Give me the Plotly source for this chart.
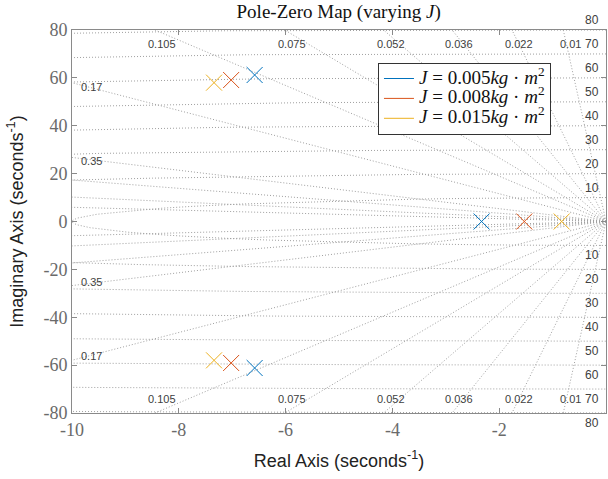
import numpy as np
import plotly.graph_objects as go

# ---- data ----
series_names = ["J = 0.005", "J = 0.008", "J = 0.015"]
series_colors = ["#0072BD", "#D95319", "#EDB120"]
pole_real = [[-6.58, -6.58, -2.33], [-7.02, -7.02, -1.53], [-7.34, -7.34, -0.83]]
pole_imag = [[61.2, -61.2, 0.0], [59.1, -59.1, 0.0], [58.0, -58.0, 0.0]]

zeta_values = [0.01, 0.022, 0.036, 0.052, 0.075, 0.105, 0.17, 0.35, 0.5, 0.7, 0.86]
zeta_labels = ["0.01", "0.022", "0.036", "0.052", "0.075", "0.105", "0.17", "0.35"]
wn_values = [10, 20, 30, 40, 50, 60, 70, 80]

x_ticks = [-10, -8, -6, -4, -2, 0]
y_ticks = [-80, -60, -40, -20, 0, 20, 40, 60, 80]
x_range = [-10, 0]
y_range = [-80, 80]

grid_color = "#a0a0a0"
grid_dash = "1px,2px"

fig = go.Figure()

# damping-ratio lines
for z in zeta_values:
    r = np.array([0, 400.0])
    xs = -z * r
    ys = np.sqrt(1 - z**2) * r
    for sgn in (1, -1):
        fig.add_trace(go.Scatter(x=xs, y=sgn * ys, mode="lines",
                                 line=dict(color=grid_color, width=1, dash=grid_dash),
                                 hoverinfo="skip", showlegend=False))

# natural-frequency circles
for w in wn_values:
    th = np.linspace(np.pi / 2, 3 * np.pi / 2, 4001)
    fig.add_trace(go.Scatter(x=w * np.cos(th), y=w * np.sin(th), mode="lines",
                             line=dict(color=grid_color, width=1, dash=grid_dash),
                             hoverinfo="skip", showlegend=False))

# poles
for name, col, xr, yi in zip(series_names, series_colors, pole_real, pole_imag):
    fig.add_trace(go.Scatter(x=xr, y=yi, mode="markers",
                             marker=dict(symbol="x-thin", size=16,
                                         line=dict(color=col, width=1)),
                             showlegend=False, hoverinfo="x+y"))

# legend entries (line keys as in MATLAB)
for name, col in zip(series_names, series_colors):
    val = name.split("= ")[1]
    label = ('<span style="font-size:19px"><i>J</i> = ' + val +
             '<i>kg</i> · <i>m</i><sup>2</sup></span>')
    fig.add_trace(go.Scatter(x=[None], y=[None], mode="lines",
                             line=dict(color=col, width=1), name=label))

annotations = []
lab_font = dict(family="Liberation Sans, Arial", size=11, color="#404040")
# damping labels
for z, txt in zip(zeta_values, zeta_labels):
    t = np.sqrt(1 - z**2) / z
    x_top = -y_range[1] / t
    if x_top >= x_range[0]:
        for sgn in (1, -1):
            annotations.append(dict(x=x_top, y=sgn * y_range[1], text=txt, showarrow=False,
                                    xanchor="center", yanchor="middle",
                                    xshift=7, yshift=-14 * sgn, font=lab_font))
    else:
        yl = -x_range[0] * t
        for sgn in (1, -1):
            annotations.append(dict(x=x_range[0], y=sgn * yl, text=txt, showarrow=False,
                                    xanchor="left", yanchor="middle",
                                    xshift=7, yshift=-4 * sgn, font=lab_font))
# natural frequency labels
for w in wn_values:
    for sgn in (1, -1):
        annotations.append(dict(x=-0.26, y=sgn * w, text=str(w), showarrow=False,
                                xanchor="center", yanchor="middle",
                                yshift=10 * sgn, font=dict(family="Liberation Sans, Arial",
                                                           size=12, color="#404040")))

axis_common = dict(showgrid=False, zeroline=False, showline=True, linecolor="#8a8a8a",
                   linewidth=1, mirror="ticks", ticks="inside", ticklen=5,
                   tickcolor="#8a8a8a",
                   tickfont=dict(family="Liberation Serif, Times New Roman", size=18,
                                 color="#6a6a6a"))

fig.update_layout(
    width=608, height=479,
    margin=dict(l=72, r=2, t=30, b=66),
    paper_bgcolor="white", plot_bgcolor="white",
    title=dict(text="Pole-Zero Map (varying <i>J</i>)", x=0.557, xanchor="center",
               y=0.977, yanchor="middle", yref="container",
               font=dict(family="Liberation Serif, Times New Roman", size=19, color="#111111")),
    xaxis=dict(range=x_range, tickvals=x_ticks, ticktext=[str(v) for v in x_ticks],
               title=dict(text="Real Axis (seconds<sup>-1</sup>)", standoff=15,
                          font=dict(family="Liberation Sans, Arial", size=18, color="#222222")),
               **axis_common),
    yaxis=dict(range=y_range, tickvals=y_ticks, ticktext=[str(v) for v in y_ticks],
               title=dict(text="Imaginary Axis (seconds<sup>-1</sup>)", standoff=15,
                          font=dict(family="Liberation Sans, Arial", size=18, color="#222222")),
               **axis_common),
    legend=dict(x=0.573, y=0.915, xanchor="left", yanchor="top",
                bgcolor="white", bordercolor="#333333", borderwidth=1,
                font=dict(family="Liberation Serif, Times New Roman", size=13, color="#111111"),
                tracegroupgap=0, itemwidth=30),
    annotations=annotations,
    showlegend=True,
)

fig.write_html("out.html")
